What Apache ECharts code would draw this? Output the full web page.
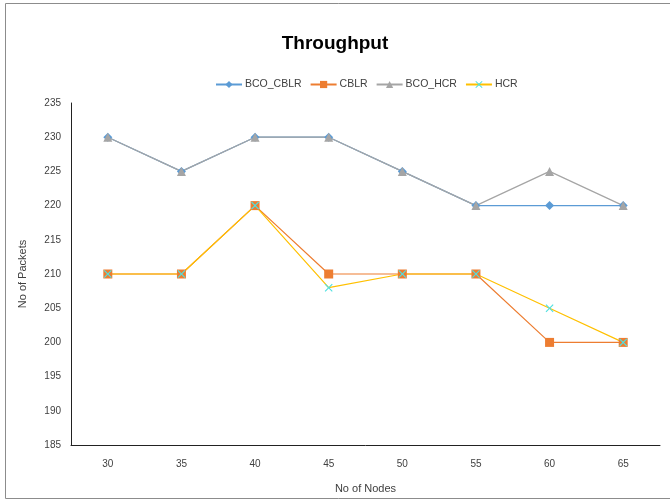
<!DOCTYPE html>
<html><head><meta charset="utf-8">
<script src="https://cdn.jsdelivr.net/npm/echarts@6/dist/echarts.min.js"></script>
<style>html,body{margin:0;padding:0;background:#fff}#c{width:670px;height:502px}</style>
</head><body><div id="c"></div>
<script>
const categories = ['30','35','40','45','50','55','60','65'];
const bcoCblr = [230,225,230,230,225,220,220,220];
const cblr = [210,210,220,210,210,210,200,200];
const bcoHcr = [230,225,230,230,225,220,225,220];
const hcr = [210,210,220,208,210,210,205,200];
const yTicks = {min:185, max:235, interval:5};

const font = 'Liberation Sans';
const xPath = 'path://M0,1 L1,0 L5,4 L9,0 L10,1 L6,5 L10,9 L9,10 L5,6 L1,10 L0,9 L4,5 Z';
const chart = echarts.init(document.getElementById('c'));
chart.setOption({
  animation:false,
  textStyle:{fontFamily:font},
  graphic:[{type:'rect',shape:{x:5.5,y:3.5,width:680,height:495},style:{fill:'none',stroke:'#8c8c8c',lineWidth:1}}],
  title:{text:'Throughput',left:'center',top:29,textStyle:{fontSize:19,fontWeight:'bold',color:'#000',fontFamily:font}},
  legend:{top:74,left:210,itemGap:8,itemWidth:26,itemHeight:9,
    textStyle:{fontSize:10.5,color:'#404040',fontFamily:font,padding:[0,0,0,-2]},
    data:['BCO_CBLR','CBLR','BCO_HCR','HCR']},
  grid:{left:71,right:10,top:103,bottom:57},
  xAxis:{type:'category',data:categories,boundaryGap:true,
    name:'No of Nodes',nameLocation:'middle',nameGap:38,
    nameTextStyle:{fontSize:11,color:'#404040'},
    axisLine:{lineStyle:{color:'#222',width:1}},axisTick:{show:false},
    axisLabel:{fontSize:10,color:'#404040',margin:14}},
  yAxis:{type:'value',min:yTicks.min,max:yTicks.max,interval:yTicks.interval,
    name:'No of Packets',nameLocation:'middle',nameGap:43,
    nameTextStyle:{fontSize:11,color:'#404040'},
    axisLine:{show:true,lineStyle:{color:'#222',width:1}},axisTick:{show:false},
    splitLine:{show:false},
    axisLabel:{fontSize:10,color:'#404040',margin:10}},
  series:[
    {name:'BCO_CBLR',type:'line',data:bcoCblr,symbol:'diamond',symbolSize:9,
      itemStyle:{color:'#5B9BD5'},lineStyle:{color:'#5B9BD5',width:1.2}},
    {name:'CBLR',type:'line',data:cblr,symbol:'rect',symbolSize:9,
      itemStyle:{color:'#ED7D31'},lineStyle:{color:'#ED7D31',width:1.2}},
    {name:'BCO_HCR',type:'line',data:bcoHcr,symbol:'triangle',symbolSize:9,
      itemStyle:{color:'#A5A5A5'},lineStyle:{color:'#A5A5A5',width:1.2}},
    {name:'HCR',type:'line',data:hcr,symbol:xPath,symbolSize:8,
      itemStyle:{color:'#4FE0E0'},lineStyle:{color:'#FFC000',width:1.2}}
  ]
});
</script></body></html>
